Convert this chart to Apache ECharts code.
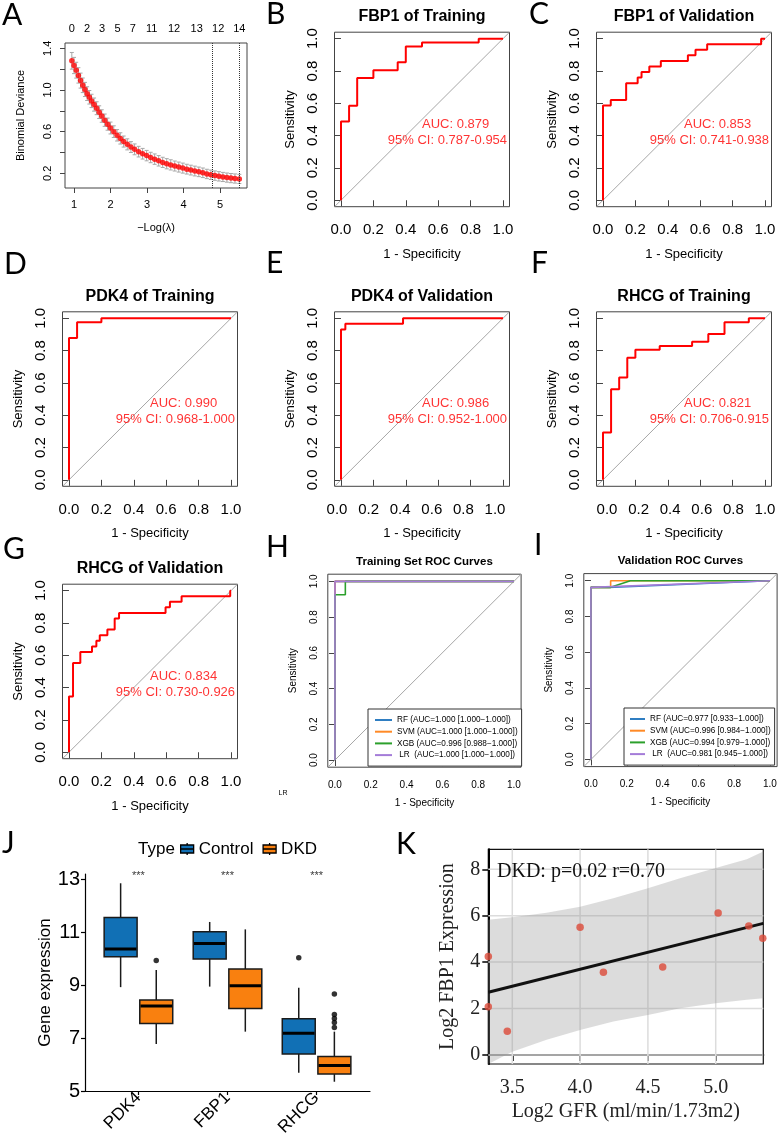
<!DOCTYPE html>
<html><head><meta charset="utf-8">
<script src="https://cdn.jsdelivr.net/npm/echarts@6/dist/echarts.min.js"></script>
<style>html,body{margin:0;padding:0;background:#fff}#c{width:780px;height:1142px}</style>
</head><body><div id="c"></div>
<script>
// ================= DATA =================
// Panel A: LASSO cross-validation curve
const lamX = [0.94,1.00,1.06,1.12,1.18,1.24,1.30,1.36,1.42,1.48,1.55,1.62,1.69,1.76,1.84,1.92,2.00,2.09,2.18,2.27,2.36,2.46,2.56,2.66,2.77,2.88,2.99,3.10,3.21,3.32,3.43,3.54,3.65,3.76,3.87,3.98,4.09,4.20,4.31,4.42,4.53,4.64,4.75,4.86,4.97,5.08,5.19,5.30,5.41,5.53];
const lamDev = [1.28,1.235,1.19,1.14,1.09,1.045,1.005,0.965,0.93,0.895,0.86,0.825,0.787,0.75,0.71,0.672,0.635,0.60,0.565,0.535,0.505,0.478,0.452,0.43,0.408,0.388,0.37,0.352,0.336,0.32,0.305,0.292,0.281,0.27,0.26,0.25,0.24,0.231,0.222,0.214,0.205,0.194,0.186,0.178,0.171,0.165,0.159,0.154,0.15,0.146];
const lamSE = [0.08,0.078,0.076,0.074,0.072,0.07,0.068,0.066,0.065,0.064,0.063,0.062,0.061,0.06,0.059,0.058,0.057,0.056,0.055,0.054,0.053,0.053,0.052,0.052,0.051,0.051,0.05,0.05,0.05,0.05,0.049,0.049,0.049,0.048,0.048,0.048,0.047,0.047,0.047,0.046,0.046,0.045,0.045,0.045,0.045,0.044,0.044,0.044,0.044,0.044];
const nzTopX = [0.94,1.36,1.77,2.19,2.61,3.13,3.74,4.36,4.95,5.53];
const nzTopLabels = ['0','2','3','5','7','11','12','13','12','14'];
const lambdaLines = [4.79,5.53];
const aXTicks = [1,2,3,4,5];
const aYTicks = [0.2,0.4,0.6,0.8,1.0,1.2,1.4];
const aYLabels = [0.2,0.6,1.0,1.4];

// ROC curves (1-specificity, sensitivity)
const rocTicks = [0,0.2,0.4,0.6,0.8,1.0];
const rocFBP1Train = [[0,0],[0,0.488],[0.05,0.488],[0.05,0.585],[0.1,0.585],[0.1,0.756],[0.2,0.756],[0.2,0.805],[0.35,0.805],[0.35,0.854],[0.4,0.854],[0.4,0.951],[0.5,0.951],[0.5,0.976],[0.85,0.976],[0.85,1],[1,1]];
const rocFBP1Valid = [[0,0],[0,0.586],[0.048,0.586],[0.048,0.621],[0.143,0.621],[0.143,0.724],[0.214,0.724],[0.214,0.759],[0.238,0.759],[0.238,0.793],[0.286,0.793],[0.286,0.828],[0.357,0.828],[0.357,0.862],[0.524,0.862],[0.524,0.897],[0.571,0.897],[0.571,0.931],[0.643,0.931],[0.643,0.966],[0.976,0.966],[0.976,1],[1,1]];
const rocPDK4Train = [[0,0],[0,0.878],[0.05,0.878],[0.05,0.976],[0.2,0.976],[0.2,1],[1,1]];
const rocPDK4Valid = [[0,0],[0,0.931],[0.027,0.931],[0.027,0.966],[0.383,0.966],[0.383,1],[1,1]];
const rocRHCGTrain = [[0,0],[0,0.293],[0.05,0.293],[0.05,0.561],[0.1,0.561],[0.1,0.634],[0.15,0.634],[0.15,0.756],[0.2,0.756],[0.2,0.805],[0.35,0.805],[0.35,0.829],[0.55,0.829],[0.55,0.854],[0.65,0.854],[0.65,0.902],[0.75,0.902],[0.75,0.976],[0.9,0.976],[0.9,1],[1,1]];
const rocRHCGValid = [[0,0],[0,0.345],[0.025,0.345],[0.025,0.552],[0.07,0.552],[0.07,0.621],[0.142,0.621],[0.142,0.655],[0.169,0.655],[0.169,0.690],[0.19,0.690],[0.19,0.724],[0.237,0.724],[0.237,0.759],[0.282,0.759],[0.282,0.828],[0.309,0.828],[0.309,0.862],[0.596,0.862],[0.596,0.897],[0.623,0.897],[0.623,0.931],[0.695,0.931],[0.695,0.966],[0.995,0.966],[0.995,1],[1,1]];
const aucTexts = ['0.879','0.853','0.990','0.986','0.821','0.834'];
const ciTexts = ['0.787-0.954','0.741-0.938','0.968-1.000','0.952-1.000','0.706-0.915','0.730-0.926'];

// Model ROC curves
const modelNames = ['RF','SVM','XGB','LR'];
const trainAUC = ['1.000 [1.000\u22121.000]','1.000 [1.000\u22121.000]','0.996 [0.988\u22121.000]','1.000 [1.000\u22121.000]'];
const validAUC = ['0.977 [0.933\u22121.000]','0.996 [0.984\u22121.000]','0.994 [0.979\u22121.000]','0.981 [0.945\u22121.000]'];
const trainCurves = [
  [[0,0],[0,1],[1,1]],
  [[0,0],[0,1],[1,1]],
  [[0,0],[0,0.925],[0.058,0.925],[0.058,1],[1,1]],
  [[0,0],[0,1],[1,1]]
];
const validCurves = [
  [[0,0],[0,0.963],[0.1,0.963],[1,1]],
  [[0,0],[0,0.963],[0.11,0.963],[0.11,1],[1,1]],
  [[0,0],[0,0.963],[0.11,0.963],[0.22,1],[1,1]],
  [[0,0],[0,0.963],[1,1]]
];

// Panel J: boxplots [min, Q1, median, Q3, max]
const genes = ['PDK4','FBP1','RHCG'];
const ctrlBox = [[8.92,10.07,10.36,11.55,12.84],[8.94,9.98,10.57,11.01,11.38],[5.69,6.40,7.18,7.73,8.90]];
const dkdBox = [[6.77,7.55,8.21,8.43,9.57],[7.24,8.11,8.97,9.60,11.10],[5.35,5.64,5.96,6.30,7.24]];
const ctrlOut = [[],[],[10.03]];
const dkdOut = [[9.93],[],[8.66,7.89,7.74,7.59,7.40]];
const sigLabel = ['***','***','***'];
const sigY = 13.11;

// Panel K: correlation
const gfr = [3.323,3.323,3.463,4.0,4.172,4.609,5.018,5.244,5.347];
const fbp1 = [4.24,2.08,1.02,5.50,3.56,3.79,6.12,5.56,5.03];
const fitLine = [[3.323,2.70],[5.351,5.67]];
const bandX = [3.323,3.5,3.753,4.0,4.245,4.5,4.737,5.0,5.229,5.351];
const bandUp = [5.82,5.93,6.13,6.39,6.75,7.18,7.61,8.05,8.43,8.76];
const bandLo = [-0.39,0.14,0.65,1.08,1.44,1.72,2.01,2.23,2.38,2.44];
const kXTicks = [3.5,4.0,4.5,5.0];
const kYTicks = [0,2,4,6,8];

// ================= BUILD =================
const SANS = 'Liberation Sans, Arial, sans-serif';
const SERIF = 'Liberation Serif, Times New Roman, serif';
const LET = 'Lato, Open Sans, sans-serif';
const grids=[], xAxes=[], yAxes=[], series=[], graphics=[], legends=[];

function gtext(text, x, y, o){
  graphics.push({type:'text', x:x, y:y, silent:true, z:10, style:Object.assign({text:text, fill:'#000', fontFamily:SANS, fontSize:12, align:'left', verticalAlign:'middle'}, o||{})});
}
// panel letters
[['A',2,15],['B',266,14],['C',529,14],['D',4,264],['E',266,263],['F',531,263],['G',3,549],['H',266,547],['I',534,545],['J',2,843],['K',396,844]]
 .forEach(l=>gtext(l[0], l[1], l[2], {fontFamily:LET, fontSize:30}));

// ---- Panel A ----
grids.push({left:65, top:43, width:182, height:145, show:true, borderColor:'#444', borderWidth:1});
xAxes.push({gridIndex:0, type:'value', min:0.753, max:5.74, axisLine:{show:false}, splitLine:{show:false},
  axisTick:{show:true, customValues:aXTicks, length:5, lineStyle:{color:'#444'}},
  axisLabel:{customValues:aXTicks, formatter:v=>String(v), fontFamily:SANS, fontSize:11, color:'#000', margin:11},
  name:'\u2212Log(\u03bb)', nameLocation:'middle', nameGap:34, nameTextStyle:{fontFamily:SANS, fontSize:11, color:'#000'}});
xAxes.push({gridIndex:0, type:'value', position:'top', min:0.753, max:5.74, axisLine:{show:false}, splitLine:{show:false}, axisTick:{show:false},
  axisLabel:{customValues:nzTopX, formatter:v=>{const i=nzTopX.findIndex(a=>Math.abs(a-v)<1e-6); return i<0?'':nzTopLabels[i];}, fontFamily:SANS, fontSize:11, color:'#000', margin:9}});
yAxes.push({gridIndex:0, type:'value', min:0.059, max:1.451, axisLine:{show:false}, splitLine:{show:false},
  axisTick:{show:true, customValues:aYTicks, length:5, lineStyle:{color:'#444'}},
  axisLabel:{customValues:aYLabels, rotate:90, formatter:v=>v.toFixed(1), fontFamily:SANS, fontSize:11, color:'#000', margin:12},
  name:'Binomial Deviance', nameLocation:'middle', nameGap:39, nameTextStyle:{fontFamily:SANS, fontSize:11, color:'#000'}});
series.push({type:'custom', name:'CV error bars', xAxisIndex:0, yAxisIndex:0, silent:true, z:2,
  data: lamX.map((x,i)=>[x, lamDev[i]-lamSE[i], lamDev[i]+lamSE[i]]),
  renderItem:(p,api)=>{const lo=api.coord([api.value(0),api.value(1)]), hi=api.coord([api.value(0),api.value(2)]); const c=2;
    const st={stroke:'#a8a8a8', lineWidth:1};
    return {type:'group', children:[
      {type:'line', shape:{x1:lo[0],y1:lo[1],x2:hi[0],y2:hi[1]}, style:st},
      {type:'line', shape:{x1:lo[0]-c,y1:lo[1],x2:lo[0]+c,y2:lo[1]}, style:st},
      {type:'line', shape:{x1:hi[0]-c,y1:hi[1],x2:hi[0]+c,y2:hi[1]}, style:st}]};}});
series.push({type:'scatter', name:'CV deviance', xAxisIndex:0, yAxisIndex:0, z:3, symbolSize:5.5, itemStyle:{color:'#ff0000'},
  data: lamX.map((x,i)=>[x, lamDev[i]]),
  markLine:{silent:true, symbol:['none','none'], label:{show:false}, lineStyle:{type:'dotted', color:'#333', width:1},
    data: lambdaLines.map(v=>({xAxis:v}))}});

// ---- ROC panels B-G ----
// labelShift: where the printed tick labels sit (px of label 0.0 and 1.0), E and F are slightly offset in the original
const rocDefs = [
  {title:'FBP1 of Training', left:334.5, top:32.2, data:rocFBP1Train},
  {title:'FBP1 of Validation', left:596.5, top:32.2, data:rocFBP1Valid},
  {title:'PDK4 of Training', left:62.5, top:311.8, data:rocPDK4Train},
  {title:'PDK4 of Validation', left:334.5, top:311.8, data:rocPDK4Valid, lab:[337,495]},
  {title:'RHCG of Training', left:596.5, top:311.8, data:rocRHCGTrain, lab:[607,765]},
  {title:'RHCG of Validation', left:62.5, top:584.2, data:rocRHCGValid}
];
function rocAxes(gi, tickFs, nameFs, xMargin, xGap, yMargin, yGap, W, lab){
  const tick = {show:true, customValues:rocTicks, length:6, lineStyle:{color:'#444'}};
  xAxes.push({gridIndex:gi, type:'value', min:-0.04, max:1.04, axisLine:{show:false}, splitLine:{show:false}, axisTick:tick,
    axisLabel:{show:!lab, customValues:rocTicks, formatter:v=>v.toFixed(1), fontFamily:SANS, fontSize:tickFs, color:'#000', margin:xMargin},
    name:'1 - Specificity', nameLocation:'middle', nameGap:xGap, nameTextStyle:{fontFamily:SANS, fontSize:nameFs, color:'#000'}});
  const xi = xAxes.length-1;
  if (lab){
    const g = grids[gi]; const s = (lab[1]-lab[0]);
    const mn = -(lab[0]-g.left)/s, mx = mn + W/s;
    xAxes.push({gridIndex:gi, type:'value', position:'bottom', min:mn, max:mx, axisLine:{show:false}, splitLine:{show:false}, axisTick:{show:false},
      axisLabel:{customValues:rocTicks, formatter:v=>v.toFixed(1), fontFamily:SANS, fontSize:tickFs, color:'#000', margin:xMargin}});
  }
  yAxes.push({gridIndex:gi, type:'value', min:-0.04, max:1.04, axisLine:{show:false}, splitLine:{show:false}, axisTick:tick,
    axisLabel:{customValues:rocTicks, rotate:90, formatter:v=>v.toFixed(1), fontFamily:SANS, fontSize:tickFs, color:'#000', margin:yMargin},
    name:'Sensitivity', nameLocation:'middle', nameGap:yGap, nameTextStyle:{fontFamily:SANS, fontSize:nameFs, color:'#000'}});
  return [xi, yAxes.length-1];
}
rocDefs.forEach((d,k)=>{
  const gi = grids.length;
  grids.push({left:d.left, top:d.top, width:175, height:174.5, show:true, borderColor:'#444', borderWidth:1});
  const [xi, yi] = rocAxes(gi, 15, 13, 16, 41, 14, 38, 175, d.lab);
  series.push({type:'line', name:d.title+' reference', xAxisIndex:xi, yAxisIndex:yi, data:[[-0.04,-0.04],[1.04,1.04]], symbol:'none', silent:true, z:2, lineStyle:{color:'#a6a6a6', width:1}});
  series.push({type:'line', name:d.title, xAxisIndex:xi, yAxisIndex:yi, data:d.data, symbol:'none', z:3, lineStyle:{color:'#ff0000', width:2}});
  series.push({type:'scatter', name:d.title+' AUC', xAxisIndex:xi, yAxisIndex:yi, data:[[0.5,0.47]], symbolSize:0, silent:true, z:4,
    label:{show:true, position:'right', distance:0, formatter:'AUC: '+aucTexts[k], fontFamily:SANS, fontSize:13, color:'#ff0000'}});
  series.push({type:'scatter', name:d.title+' CI', xAxisIndex:xi, yAxisIndex:yi, data:[[1.025,0.372]], symbolSize:0, silent:true, z:4,
    label:{show:true, position:'left', distance:0, formatter:'95% CI: '+ciTexts[k], fontFamily:SANS, fontSize:13, color:'#ff0000'}});
  gtext(d.title, d.left+87.5, d.top-15.5, {align:'center', fontWeight:'bold', fontSize:16});
});

// ---- Model ROC panels H, I ----
const modelColors = ['#2f7ec2','#ff8a26','#2ca02c','#a47cd8'];
const multiDefs = [
  {title:'Training Set ROC Curves', left:327.8, top:574.2, curves:trainCurves, auc:trainAUC, lg:{left:368, top:709, w:17, pl:7}},
  {title:'Validation ROC Curves', left:583.8, top:573.6, curves:validCurves, auc:validAUC, lg:{left:624, top:708, w:15, pl:6}}
];
multiDefs.forEach(d=>{
  const gi = grids.length;
  grids.push({left:d.left, top:d.top, width:193.3, height:193, show:true, borderColor:'#444', borderWidth:1});
  const [xi, yi] = rocAxes(gi, 10, 10, 13, 31, 9, 30, 193.3, null);
  series.push({type:'line', name:d.title+' reference', xAxisIndex:xi, yAxisIndex:yi, data:[[-0.04,-0.04],[1.04,1.04]], symbol:'none', silent:true, z:2, lineStyle:{color:'#a6a6a6', width:1}});
  const names = modelNames.map((m,i)=>(m==='LR'?' LR  ':m+' ')+'(AUC='+d.auc[i]+')');
  d.curves.forEach((c,i)=>{
    series.push({type:'line', name:names[i], xAxisIndex:xi, yAxisIndex:yi, data:c, symbol:'none', z:3+i, color:modelColors[i], lineStyle:{color:modelColors[i], width:1.6}});
  });
  legends.push({data:names, left:d.lg.left, top:d.lg.top, orient:'vertical', icon:'rect', itemWidth:d.lg.w, itemHeight:2, itemGap:1.7,
    padding:[6,4,6,d.lg.pl], borderColor:'#333', borderWidth:1, backgroundColor:'#fff', selectedMode:false,
    textStyle:{fontFamily:SANS, fontSize:8.2, color:'#000', lineHeight:10}});
  gtext(d.title, d.left+96.6, d.top-12.5, {align:'center', fontWeight:'bold', fontSize:11.5});
});
gtext('LR', 283, 793, {align:'center', fontSize:7});

// ---- Panel J ----
const giJ = grids.length;
grids.push({left:85, top:874, width:285, height:217});
xAxes.push({gridIndex:giJ, type:'value', min:0.4, max:3.6, splitLine:{show:false},
  axisLine:{show:true, lineStyle:{color:'#000', width:1.2}},
  axisTick:{show:true, customValues:[1,2,3], length:4, lineStyle:{color:'#000', width:1.2}},
  axisLabel:{customValues:[1,2,3], rotate:45, formatter:v=>genes[Math.round(v)-1], fontFamily:SANS, fontSize:17, color:'#000', margin:4}});
const xiJ = xAxes.length-1;
yAxes.push({gridIndex:giJ, type:'value', min:5, max:13.19, interval:2, splitLine:{show:false},
  axisLine:{show:true, lineStyle:{color:'#000', width:1.2}},
  axisTick:{show:true, length:4, lineStyle:{color:'#000', width:1.2}},
  axisLabel:{fontFamily:SANS, fontSize:20, color:'#000', margin:5, showMaxLabel:false},
  name:'Gene expression', nameLocation:'middle', nameGap:28, nameTextStyle:{fontFamily:SANS, fontSize:17, color:'#000'}});
const yiJ = yAxes.length-1;
const boxOff = 0.2, boxW = 0.37;
function boxRender(off){
  return (p, api)=>{
    const c = api.value(0)+off;
    const pMn=api.coord([c,api.value(1)]), pQ1=api.coord([c,api.value(2)]), pMd=api.coord([c,api.value(3)]), pQ3=api.coord([c,api.value(4)]), pMx=api.coord([c,api.value(5)]);
    const bw = api.size([boxW,0])[0]; const x = pMd[0];
    const st = {stroke:'#1a1a1a', lineWidth:1.5};
    return {type:'group', children:[
      {type:'line', shape:{x1:x,y1:pMx[1],x2:x,y2:pQ3[1]}, style:st},
      {type:'line', shape:{x1:x,y1:pQ1[1],x2:x,y2:pMn[1]}, style:st},
      {type:'rect', shape:{x:x-bw/2, y:pQ3[1], width:bw, height:pQ1[1]-pQ3[1]}, style:{fill:api.visual('color'), stroke:'#1a1a1a', lineWidth:1.5}},
      {type:'line', shape:{x1:x-bw/2+0.7,y1:pMd[1],x2:x+bw/2-0.7,y2:pMd[1]}, style:{stroke:'#000', lineWidth:3}}]};
  };
}
const typeColors = {Control:'#1170b5', DKD:'#f9800f'};
series.push({type:'custom', name:'Control', xAxisIndex:xiJ, yAxisIndex:yiJ, itemStyle:{color:typeColors.Control},
  data: ctrlBox.map((b,i)=>[i+1].concat(b)), renderItem:boxRender(-boxOff), z:2});
series.push({type:'custom', name:'DKD', xAxisIndex:xiJ, yAxisIndex:yiJ, itemStyle:{color:typeColors.DKD},
  data: dkdBox.map((b,i)=>[i+1].concat(b)), renderItem:boxRender(boxOff), z:2});
const outPts = [];
ctrlOut.forEach((arr,i)=>arr.forEach(v=>outPts.push([i+1-boxOff, v])));
dkdOut.forEach((arr,i)=>arr.forEach(v=>outPts.push([i+1+boxOff, v])));
series.push({type:'scatter', name:'Outliers', xAxisIndex:xiJ, yAxisIndex:yiJ, data:outPts, symbolSize:5.5, itemStyle:{color:'#000'}, z:3, silent:true});
series.push({type:'scatter', name:'Significance', xAxisIndex:xiJ, yAxisIndex:yiJ, data:genes.map((g,i)=>[i+1, sigY]), symbolSize:0, silent:true,
  label:{show:true, position:'inside', formatter:p=>sigLabel[p.dataIndex], fontFamily:SANS, fontSize:11, color:'#000'}});
const boxIcon = 'path://M6.5,0V2M6.5,10V12M0,2H13V10H0ZM0,6H13';
legends.push({data:[{name:'Control', icon:boxIcon},{name:'DKD', icon:boxIcon}], left:180, top:840.5, itemWidth:13, itemHeight:12, itemGap:9,
  padding:0, selectedMode:false, itemStyle:{borderColor:'#000', borderWidth:1.3},
  textStyle:{fontFamily:SANS, fontSize:17, color:'#000'}});
gtext('Type', 138, 849, {fontSize:17});

// ---- Panel K ----
const giK = grids.length;
grids.push({left:488.3, top:849.3, width:275, height:214.7, show:true, borderColor:'#111', borderWidth:1.2});
xAxes.push({gridIndex:giK, type:'value', min:3.323, max:5.351, splitLine:{show:false},
  axisLine:{show:true, lineStyle:{color:'#000', width:2}},
  axisTick:{show:true, customValues:kXTicks, length:6, lineStyle:{color:'#000', width:1.5}},
  axisLabel:{customValues:kXTicks, formatter:v=>v.toFixed(1), fontFamily:SERIF, fontSize:20, color:'#222', margin:14},
  name:'Log2 GFR (ml/min/1.73m2)', nameLocation:'middle', nameGap:38, nameTextStyle:{fontFamily:SERIF, fontSize:20, color:'#222'}});
const xiK = xAxes.length-1;
yAxes.push({gridIndex:giK, type:'value', min:-0.39, max:8.86, splitLine:{show:false},
  axisLine:{show:true, lineStyle:{color:'#000', width:2}},
  axisTick:{show:true, customValues:kYTicks, length:6, lineStyle:{color:'#000', width:1.5}},
  axisLabel:{customValues:kYTicks, formatter:v=>String(v), fontFamily:SERIF, fontSize:20, color:'#222', margin:8},
  name:'Log2 FBP1 Expression', nameLocation:'middle', nameGap:31, nameTextStyle:{fontFamily:SERIF, fontSize:20, color:'#222'}});
const yiK = yAxes.length-1;
series.push({type:'custom', name:'K grid', xAxisIndex:xiK, yAxisIndex:yiK, z:1, silent:true, data:[[kXTicks[0], kYTicks[0]]],
  renderItem:(p,api)=>{
    const cs = p.coordSys; const st = {stroke:'#dcdcdc', lineWidth:1.5};
    const ch = [];
    kXTicks.forEach(v=>{const x=api.coord([v,0])[0]; ch.push({type:'line', shape:{x1:x,y1:cs.y,x2:x,y2:cs.y+cs.height}, style:st});});
    kYTicks.forEach(v=>{const y=api.coord([kXTicks[0],v])[1]; ch.push({type:'line', shape:{x1:cs.x,y1:y,x2:cs.x+cs.width,y2:y}, style:st});});
    return {type:'group', children:ch};
  }});
series.push({type:'custom', name:'95% CI band', xAxisIndex:xiK, yAxisIndex:yiK, z:2, silent:true, data:[[bandX[0], bandUp[0]]],
  renderItem:(p,api)=>{
    const up = bandX.map((x,i)=>api.coord([x,bandUp[i]]));
    const lo = bandX.map((x,i)=>api.coord([x,bandLo[i]])).reverse();
    return {type:'polygon', shape:{points:up.concat(lo)}, style:{fill:'rgba(150,150,150,0.33)'}};
  }});
series.push({type:'line', name:'Linear fit', xAxisIndex:xiK, yAxisIndex:yiK, data:fitLine, symbol:'none', z:3, lineStyle:{color:'#111', width:3}});
series.push({type:'scatter', name:'Samples', xAxisIndex:xiK, yAxisIndex:yiK, data:gfr.map((x,i)=>[x,fbp1[i]]), symbolSize:7.5, z:4, itemStyle:{color:'#dc4a38'}});
gtext('DKD: p=0.02 r=0.70', 497, 872, {fontFamily:SERIF, fontSize:20, fill:'#111'});

const chart = echarts.init(document.getElementById('c'), null, {renderer:'canvas'});
chart.setOption({animation:false, backgroundColor:'#fff', grid:grids, xAxis:xAxes, yAxis:yAxes, series:series, legend:legends, graphic:graphics});
</script></body></html>
